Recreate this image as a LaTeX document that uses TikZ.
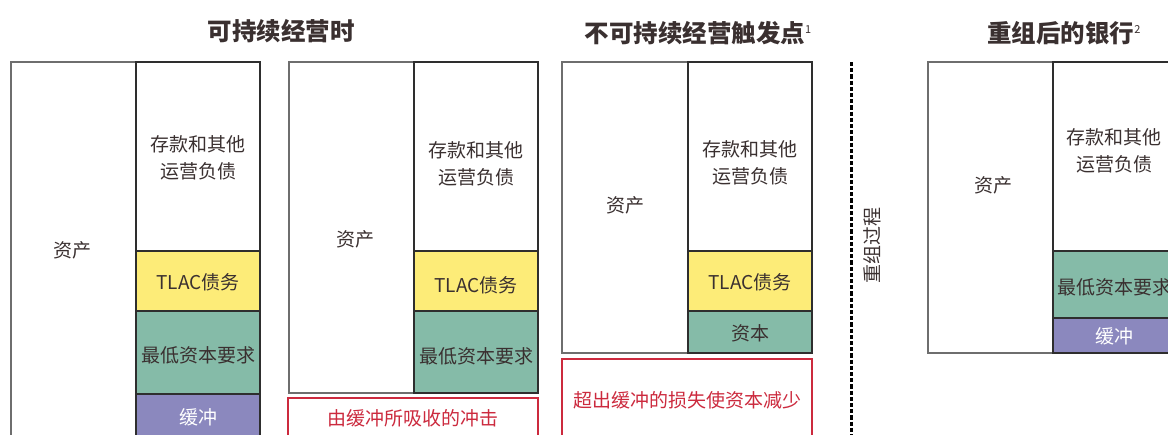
\documentclass[tikz,border=0pt]{standalone}
\usepackage{fontspec}
\setmainfont{Noto Sans CJK SC}
\definecolor{tc}{HTML}{3A3030}
\definecolor{tred}{HTML}{CC2A3E}
\definecolor{tyellow}{HTML}{FDEC78}
\definecolor{tgreen}{HTML}{85BBA8}
\definecolor{tpurple}{HTML}{8B88BE}
\definecolor{lgray}{HTML}{6E6E6E}
\definecolor{ldark}{HTML}{2E2E2E}
\begin{document}
\begin{tikzpicture}[x=1pt,y=-1pt,
  blk/.style 2 args={inner sep=0pt, outer sep=0pt, anchor=north west, minimum width=#1pt, minimum height=#2pt},
  lbox/.style={draw=lgray, line width=1.3pt, fill=white},
  rbox/.style={draw=ldark, line width=1.3pt},
  redbox/.style={draw=tred, line width=1.7pt, fill=white},
  lbl/.style={text=tc, font=\fontsize{19}{27}\selectfont, align=center, inner sep=0pt},
  wlbl/.style={text=white, font=\fontsize{19}{27}\selectfont, align=center, inner sep=0pt},
  rlbl/.style={text=tred, font=\fontsize{19}{27}\selectfont, align=center, inner sep=0pt},
  ttl/.style={text=tc, font=\fontsize{24.5}{28}\selectfont\bfseries, inner sep=0pt}]
\useasboundingbox (0,0) rectangle (1168,434);
\clip (0,0) rectangle (1168,434);

% titles
\node[ttl] (T1) at (281,31) {可持续经营时};
\node[ttl] (T3) at (698,33) {不可持续经营触发点\raisebox{9pt}{\mdseries\fontsize{11}{11}\selectfont 1}};
\node[ttl] (T4) at (1064,33) {重组后的银行\raisebox{9pt}{\mdseries\fontsize{11}{11}\selectfont 2}};

% panel 1
\node[lbox, blk={125}{385}] (a1) at (11,62) {};
\node[rbox, fill=white, blk={124}{189}] (d1) at (136,62) {};
\node[rbox, fill=tyellow, blk={124}{60}] (t1) at (136,251) {};
\node[rbox, fill=tgreen, blk={124}{83}] (m1) at (136,311) {};
\node[rbox, fill=tpurple, blk={124}{60}] (b1) at (136,394) {};
\node[lbl] (la1) at (72,250) {资产};
\node[lbl] (ld1) at (198,158) {存款和其他\\运营负债};
\node[lbl] (lt1) at (198,282) {TLAC债务};
\node[lbl] (lm1) at (198,355) {最低资本要求};
\node[wlbl] (lb1) at (198,417) {缓冲};

% panel 2
\node[lbox, blk={125}{331}] (a2) at (289,62) {};
\node[rbox, fill=white, blk={124}{189}] (d2) at (414,62) {};
\node[rbox, fill=tyellow, blk={124}{60}] (t2) at (414,251) {};
\node[rbox, fill=tgreen, blk={124}{82}] (m2) at (414,311) {};
\node[redbox, blk={250}{60}] (r2) at (288,398) {};
\node[lbl] (la2) at (355,239) {资产};
\node[lbl] (ld2) at (476,164) {存款和其他\\运营负债};
\node[lbl] (lt2) at (476,285) {TLAC债务};
\node[lbl] (lm2) at (476,356) {最低资本要求};
\node[rlbl] (lr2) at (413,418) {由缓冲所吸收的冲击};

% panel 3
\node[lbox, blk={126}{291}] (a3) at (562,62) {};
\node[rbox, fill=white, blk={124}{189}] (d3) at (688,62) {};
\node[rbox, fill=tyellow, blk={124}{60}] (t3) at (688,251) {};
\node[rbox, fill=tgreen, blk={124}{42}] (m3) at (688,311) {};
\node[redbox, blk={250}{100}] (r3) at (562,359) {};
\node[lbl] (la3) at (625,205) {资产};
\node[lbl] (ld3) at (750,163) {存款和其他\\运营负债};
\node[lbl] (lt3) at (750,282) {TLAC债务};
\node[lbl] (lm3) at (750,333) {资本};
\node[rlbl] (lr3) at (687,400) {超出缓冲的损失使资本减少};

% separator
\coordinate (ds) at (851,62);
\coordinate (de) at (851,440);
\draw[line width=3pt, dash pattern=on 4.2pt off 2pt] (ds) -- (de);
\node[lbl, rotate=90] (lp) at (872,245) {重组过程};

% panel 4
\node[lbox, blk={125}{291}] (a4) at (928,62) {};
\node[rbox, fill=white, blk={124}{189}] (d4) at (1053,62) {};
\node[rbox, fill=tgreen, blk={124}{67}] (m4) at (1053,251) {};
\node[rbox, fill=tpurple, blk={124}{35}] (b4) at (1053,318) {};
\node[lbl] (la4) at (993,185) {资产};
\node[lbl] (ld4) at (1114,151) {存款和其他\\运营负债};
\node[lbl] (lm4) at (1114,287) {最低资本要求};
\node[wlbl] (lb4) at (1114,336) {缓冲};
\end{tikzpicture}
\end{document}
